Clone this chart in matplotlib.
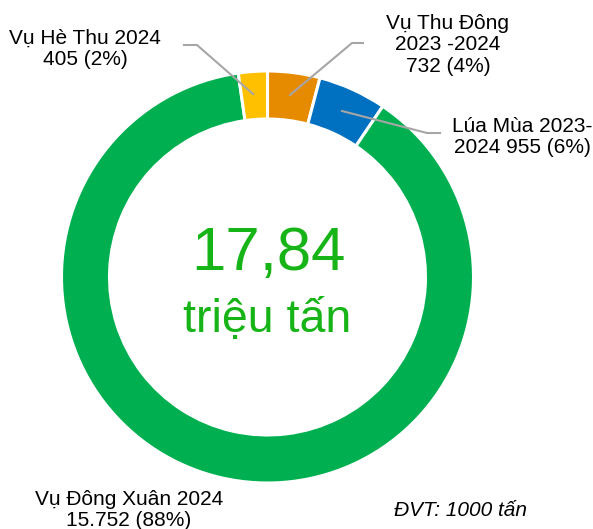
import matplotlib
matplotlib.use("Agg")
import matplotlib.pyplot as plt

plt.rcParams['font.family'] = ['Liberation Sans', 'DejaVu Sans']

# Data (thousand tonnes), clockwise from 12 o'clock
seasons = ["Vụ Thu Đông\n2023 -2024", "Lúa Mùa 2023-\n2024", "Vụ Đông Xuân 2024", "Vụ Hè Thu 2024"]
values = [732, 955, 15752, 405]
value_labels = ["732", "955", "15.752", "405"]
percents = ["4%", "6%", "88%", "2%"]
colors = ["#E68A00", "#0070C0", "#00B050", "#FFC000"]
total_text = "17,84"
unit_text = "triệu tấn"
note_text = "ĐVT: 1000 tấn"

W, H = 593, 529
fig = plt.figure(figsize=(W / 100, H / 100), dpi=100)
ax = fig.add_axes([0, 0, 1, 1])
ax.set_xlim(0, W)
ax.set_ylim(0, H)
ax.set_aspect('equal')
ax.axis('off')

def Y(y):
    return H - y

cx, cy, R = 267.5, 277, 206
ax.pie(values, colors=colors, startangle=90, counterclock=False,
       center=(cx, Y(cy)), radius=R,
       wedgeprops=dict(width=48, edgecolor='white', linewidth=2.2))
ax.set_xlim(0, W)
ax.set_ylim(0, H)

green_txt = "#17B417"
ax.text(cx + 1, Y(254), total_text, ha='center', va='center', fontsize=44.5, color=green_txt)
ax.text(cx, Y(320), unit_text, ha='center', va='center', fontsize=33.5, color=green_txt)

lab_fs = 15
line_col = "#A6A6A6"
ls = 1.15
# Labels
ax.text(85, Y(49), f"{seasons[3]}\n{value_labels[3]} ({percents[3]})", ha='center', va='center',
        fontsize=lab_fs, linespacing=ls)
ax.plot([184, 197, 253], [Y(45), Y(45), Y(94)], color=line_col, lw=1.5)

ax.text(448, Y(45), f"{seasons[0]}\n{value_labels[0]} ({percents[0]})", ha='center', va='center',
        fontsize=lab_fs, linespacing=ls)
ax.plot([363, 352, 290], [Y(43), Y(43), Y(95)], color=line_col, lw=1.5)

ax.text(522, Y(137), f"{seasons[1]} {value_labels[1]} ({percents[1]})", ha='center', va='center',
        fontsize=lab_fs, linespacing=ls)
ax.plot([342, 427, 440], [Y(111), Y(133), Y(133)], color=line_col, lw=1.5)

ax.text(129, Y(510), f"{seasons[2]}\n{value_labels[2]} ({percents[2]})", ha='center', va='center',
        fontsize=lab_fs, linespacing=ls)

ax.text(461, Y(510), note_text, ha='center', va='center', fontsize=lab_fs, style='italic')

fig.savefig("out.png", dpi=100)
